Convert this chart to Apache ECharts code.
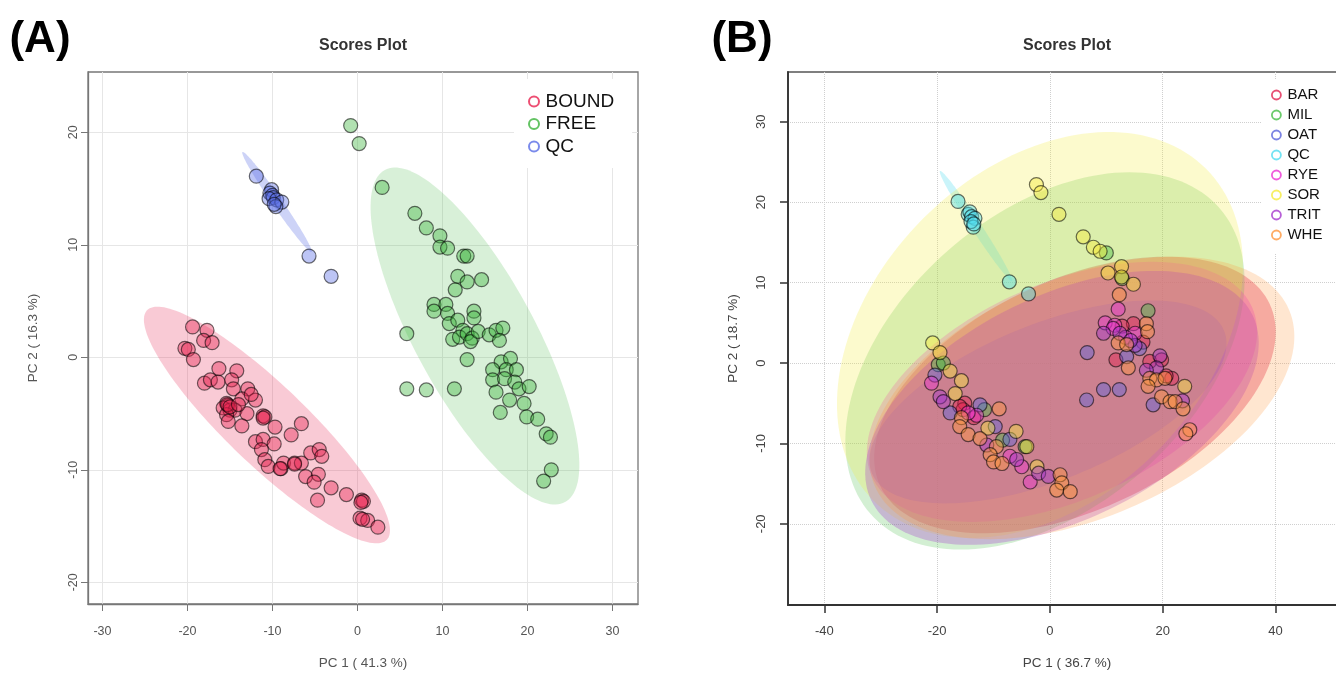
<!DOCTYPE html>
<html>
<head>
<meta charset="utf-8">
<script src="https://cdn.jsdelivr.net/npm/echarts@6/dist/echarts.min.js"></script>
<style>html,body{margin:0;padding:0;background:#fff;}#c{width:1336px;height:673px;}</style>
</head>
<body>
<div id="c"></div>
<script>
// ---------- Panel A data (PC1, PC2) ----------
const A_BOUND = [[-19.4,2.7],[-17.7,2.4],[-18.1,1.5],[-17.1,1.3],[-20.3,0.8],[-19.9,0.7],[-19.3,-0.2],[-16.3,-1.0],[-14.2,-1.2],[-18.0,-2.3],[-17.3,-2.0],[-16.4,-2.2],[-14.8,-2.0],[-14.6,-2.8],[-12.9,-2.8],[-12.0,-3.8],[-13.6,-3.7],[-15.4,-4.1],[-15.2,-4.3],[-15.8,-4.5],[-15.0,-4.7],[-14.4,-4.7],[-13.0,-5.0],[-15.4,-5.1],[-15.2,-5.7],[-13.6,-6.1],[-11.1,-5.2],[-10.9,-5.3],[-9.7,-6.2],[-6.6,-5.9],[-7.8,-6.9],[-12.0,-7.5],[-11.1,-7.3],[-9.8,-7.7],[-11.3,-8.2],[-10.9,-9.1],[-10.5,-9.7],[-9.0,-9.9],[-8.7,-9.4],[-7.4,-9.4],[-6.6,-9.4],[-5.5,-8.5],[-4.5,-8.2],[-4.2,-8.8],[-6.1,-10.6],[-4.6,-10.4],[-5.1,-11.1],[-4.7,-12.7],[-3.1,-11.6],[-1.3,-12.2],[0.5,-12.7],[0.7,-12.8],[0.3,-14.3],[1.2,-14.5],[2.4,-15.1],[-15.3,-4.2],[-15.0,-4.4],[-11.1,-5.4],[-9.1,-9.9],[-7.4,-9.5],[0.4,-12.9],[0.6,-14.4],[-14.0,-4.2],[-12.5,-3.3]];
const A_FREE = [[-0.8,20.6],[0.2,19.0],[2.9,15.1],[6.75,12.8],[8.1,11.5],[9.7,10.8],[9.7,9.8],[10.6,9.7],[12.5,9.0],[12.9,9.0],[11.8,7.2],[12.9,6.7],[14.6,6.9],[11.5,6.0],[9.0,4.7],[9.0,4.1],[10.4,4.7],[10.6,3.9],[10.8,3.0],[11.8,3.3],[13.7,4.1],[13.7,3.5],[12.4,2.4],[11.2,1.6],[12.0,1.8],[12.9,2.1],[13.5,1.7],[13.3,1.4],[14.2,2.3],[15.5,2.0],[16.3,2.4],[17.1,2.6],[16.7,1.5],[5.8,2.1],[12.9,-0.2],[16.9,-0.4],[18.0,-0.1],[15.9,-1.1],[17.5,-1.1],[18.7,-1.1],[15.9,-2.0],[17.3,-1.9],[18.5,-2.2],[19.0,-2.8],[20.2,-2.6],[16.3,-3.1],[17.9,-3.8],[19.6,-4.1],[16.8,-4.9],[19.9,-5.3],[21.2,-5.5],[22.2,-6.8],[22.7,-7.1],[5.8,-2.8],[8.1,-2.9],[11.4,-2.8],[22.8,-10.0],[21.9,-11.0]];
const A_QC = [[-11.9,16.1],[-10.1,14.9],[-10.3,14.6],[-10.0,14.4],[-9.9,14.2],[-10.4,14.1],[-9.5,14.0],[-8.9,13.8],[-9.6,13.4],[-9.8,13.6],[-5.7,9.0],[-3.1,7.2]];
// ellipses: [centerX, centerY, semiAxis1X, semiAxis1Y, semiAxis2X, semiAxis2Y]
const ELL_A_BOUND = [-10.65,-6.02,14.1,-10.2,3.26,2.57];
const ELL_A_FREE = [13.82,1.89,10.6,-14.76,6.2,2.54];
const ELL_A_QC = [-9.47,13.81,4.06,-4.44,0.48,0.25];
const A_X_TICKS = [-30,-20,-10,0,10,20,30];
const A_Y_TICKS = [-20,-10,0,10,20];

// ---------- Panel B data ----------
const B_BAR = [[14.8,4.9],[16.5,2.6],[11.7,0.4],[17.7,0.2],[19.8,0.4],[21.6,-1.9],[-15.1,-5.0],[-15.4,-5.8],[-13.5,-6.8],[-16.0,-5.4],[20.6,-1.6],[12.8,4.6]];
const B_MIL = [[10.0,13.7],[12.8,10.5],[17.4,6.5],[-19.8,-0.2],[-18.9,0.0],[-11.6,-5.8],[-8.4,-9.6],[-4.4,-10.4]];
const B_OAT = [[6.6,1.3],[6.5,-4.6],[9.5,-3.3],[12.3,-3.3],[18.3,-5.2],[15.9,1.8],[13.6,0.8],[-20.4,-1.5],[-12.4,-5.2],[-9.7,-7.9],[-7.1,-9.5],[-17.7,-6.2]];
const B_QC = [[-16.3,20.1],[-14.5,18.5],[-14.2,18.8],[-13.9,18.2],[-13.3,18.0],[-13.6,16.9],[-14.0,17.6],[-13.5,17.3],[-7.2,10.1],[-3.8,8.6]];
const B_RYE = [[12.1,6.7],[9.8,5.0],[11.5,4.7],[11.2,4.3],[15.1,3.7],[-13.0,-6.5],[-14.5,-6.2],[-7.1,-11.6],[-5.0,-12.9],[-3.5,-14.8],[-21.0,-2.5],[13.4,3.2]];
const B_SOR = [[-2.4,22.2],[-1.6,21.2],[1.6,18.5],[5.9,15.7],[7.7,14.4],[8.9,13.9],[10.3,11.2],[12.7,12.0],[12.7,10.7],[14.8,9.8],[-20.8,2.5],[-19.5,1.3],[-17.7,-1.0],[-15.7,-2.2],[-16.8,-3.8],[-11.0,-8.1],[-6.0,-8.5],[-4.1,-10.4],[-2.3,-12.9],[23.9,-2.9]];
const B_TRIT = [[9.5,3.7],[12.4,3.7],[15.1,2.2],[19.5,0.9],[18.9,-0.6],[17.1,-0.9],[23.5,-4.7],[-19.5,-4.2],[-18.9,-4.8],[-11.2,-10.2],[-5.9,-12.0],[-2.0,-13.7],[-0.3,-14.1],[14.3,2.8]];
const B_WHE = [[12.3,8.5],[17.1,4.9],[17.3,3.9],[12.1,2.5],[13.6,2.3],[13.9,-0.6],[17.7,-1.9],[18.9,-2.1],[20.4,-1.9],[17.4,-2.9],[19.8,-4.2],[21.3,-4.8],[22.2,-4.8],[23.6,-5.7],[24.8,-8.3],[24.1,-8.8],[-15.7,-6.8],[-16.0,-7.9],[-14.5,-8.9],[-12.4,-9.4],[-9.5,-10.4],[-10.6,-11.4],[-10.0,-12.3],[-8.5,-12.5],[1.8,-13.9],[2.1,-14.9],[1.2,-15.8],[3.6,-16.0],[-9.0,-5.7]];
const ELL_B_BAR = [4.43,-3.97,34.54,11.31,8.62,-12.96];
const ELL_B_MIL = [-0.89,0.26,30.94,19.02,17.18,-13.75];
const ELL_B_OAT = [-0.35,-4.84,31.23,8.86,5.18,-8.99];
const ELL_B_QC = [-13.12,17.05,6.38,-6.84,0.74,0.34];
const ELL_B_RYE = [2.13,-3.59,33.71,10.53,7.80,-12.28];
const ELL_B_SOR = [-1.77,3.49,29.46,20.66,20.68,-14.51];
const ELL_B_TRIT = [2.13,-5.58,33.79,11.55,8.70,-12.52];
const ELL_B_WHE = [5.67,-4.34,36.74,10.95,8.32,-13.74];
const B_X_TICKS = [-40,-20,0,20,40];
const B_Y_TICKS = [-20,-10,0,10,20,30];

const FONT = '"Liberation Sans", Arial, Helvetica, sans-serif';
const rgba = (c, a) => 'rgba(' + c.join(',') + ',' + a + ')';

const groupsA = [
  {name:'BOUND', data:A_BOUND, ell:ELL_A_BOUND, c:[232,35,80], ea:0.24},
  {name:'FREE', data:A_FREE, ell:ELL_A_FREE, c:[60,180,60], ea:0.2},
  {name:'QC', data:A_QC, ell:ELL_A_QC, c:[90,110,230], ea:0.3}
];
const groupsB = [
  {name:'BAR', data:B_BAR, ell:ELL_B_BAR, c:[225,35,80], ea:0.36},
  {name:'MIL', data:B_MIL, ell:ELL_B_MIL, c:[70,190,70], ea:0.24},
  {name:'OAT', data:B_OAT, ell:ELL_B_OAT, c:[90,100,220], ea:0.34},
  {name:'QC', data:B_QC, ell:ELL_B_QC, c:[80,220,240], ea:0.3},
  {name:'RYE', data:B_RYE, ell:ELL_B_RYE, c:[235,50,210], ea:0.28},
  {name:'SOR', data:B_SOR, ell:ELL_B_SOR, c:[245,235,60], ea:0.26},
  {name:'TRIT', data:B_TRIT, ell:ELL_B_TRIT, c:[165,55,205], ea:0.3},
  {name:'WHE', data:B_WHE, ell:ELL_B_WHE, c:[255,150,60], ea:0.24}
];

function ellipseSeries(id, idx, e, fill) {
  return {
    type:'custom', id:id, xAxisIndex:idx, yAxisIndex:idx, silent:true, clip:true, z:1,
    data:[[e[0], e[1]]],
    renderItem: function (params, api) {
      const pts = [];
      const n = 160;
      for (let k = 0; k < n; k++) {
        const t = 2 * Math.PI * k / n;
        pts.push(api.coord([e[0] + Math.cos(t) * e[2] + Math.sin(t) * e[4],
                            e[1] + Math.cos(t) * e[3] + Math.sin(t) * e[5]]));
      }
      return {type:'polygon', shape:{points:pts}, style:{fill:fill}};
    }
  };
}
function scatterSeries(g, idx, alpha) {
  return {
    type:'scatter', name:g.name, xAxisIndex:idx, yAxisIndex:idx, z:3,
    symbol:'circle', symbolSize:14, data:g.data,
    itemStyle:{color:rgba(g.c, alpha), borderColor:'rgba(0,0,0,0.7)', borderWidth:1.2}
  };
}

const series = [];
groupsA.forEach((g, i) => series.push(ellipseSeries('eA' + i, 0, g.ell, rgba(g.c, g.ea))));
groupsB.forEach((g, i) => series.push(ellipseSeries('eB' + i, 1, g.ell, rgba(g.c, g.ea))));
groupsA.forEach(g => series.push(scatterSeries(g, 0, 0.5)));
groupsB.forEach(g => series.push(scatterSeries(g, 1, 0.55)));

function legendData(groups, bw) {
  return groups.map(g => ({name:g.name, icon:'circle',
    itemStyle:{color:'rgba(0,0,0,0)', borderColor:rgba(g.c, 1), borderWidth:bw}}));
}

const chart = echarts.init(document.getElementById('c'), null, {renderer:'canvas'});
chart.setOption({
  animation:false,
  backgroundColor:'#fff',
  grid:[
    {left:88, top:72, width:550, height:532, outerBoundsMode:'none', containLabel:false, show:true, borderColor:'#777', borderWidth:1.3, backgroundColor:'transparent'},
    {left:788, top:72, width:558, height:533, outerBoundsMode:'none', containLabel:false, show:true, borderColor:'#555', borderWidth:1.5, backgroundColor:'transparent'}
  ],
  xAxis:[
    {gridIndex:0, type:'value', min:-31.7, max:33.0, minInterval:10, maxInterval:10,
     axisLine:{show:true, onZero:false, lineStyle:{color:'#777', width:1.3}},
     axisTick:{show:true, customValues:A_X_TICKS, length:7, lineStyle:{color:'#777'}},
     axisLabel:{customValues:A_X_TICKS, margin:21, fontSize:12.5, color:'#555', fontFamily:FONT},
     splitLine:{show:true, lineStyle:{color:'#e6e6e6', width:1}},
     name:'PC 1 ( 41.3 %)', nameLocation:'middle', nameGap:52,
     nameTextStyle:{fontSize:13.5, color:'#555', fontFamily:FONT}},
    {gridIndex:1, type:'value', min:-46.45, max:52.5, minInterval:20, maxInterval:20,
     axisLine:{show:true, onZero:false, lineStyle:{color:'#333', width:1.8}},
     axisTick:{show:true, customValues:B_X_TICKS, length:8, lineStyle:{color:'#333', width:1.5}},
     axisLabel:{customValues:B_X_TICKS, margin:20, fontSize:13, color:'#444', fontFamily:FONT},
     splitLine:{show:true, lineStyle:{color:'#cfcfcf', width:1, type:'dotted'}},
     name:'PC 1 ( 36.7 %)', nameLocation:'middle', nameGap:51,
     nameTextStyle:{fontSize:13.5, color:'#444', fontFamily:FONT}}
  ],
  yAxis:[
    {gridIndex:0, type:'value', min:-21.93, max:25.36, minInterval:10, maxInterval:10,
     axisLine:{show:true, onZero:false, lineStyle:{color:'#777', width:1.3}},
     axisTick:{show:true, customValues:A_Y_TICKS, length:7, lineStyle:{color:'#777'}},
     axisLabel:{customValues:A_Y_TICKS, rotate:90, margin:8, fontSize:12.5, color:'#555', fontFamily:FONT},
     splitLine:{show:true, lineStyle:{color:'#e6e6e6', width:1}},
     name:'PC 2 ( 16.3 %)', nameLocation:'middle', nameGap:48, nameRotate:90,
     nameTextStyle:{fontSize:13.5, color:'#555', fontFamily:FONT}},
    {gridIndex:1, type:'value', min:-30.1, max:36.2, minInterval:10, maxInterval:10,
     axisLine:{show:true, onZero:false, lineStyle:{color:'#333', width:1.8}},
     axisTick:{show:true, customValues:B_Y_TICKS, length:8, lineStyle:{color:'#333', width:1.5}},
     axisLabel:{customValues:B_Y_TICKS, rotate:90, margin:20, fontSize:13, color:'#444', fontFamily:FONT},
     splitLine:{show:true, lineStyle:{color:'#cfcfcf', width:1, type:'dotted'}},
     name:'PC 2 ( 18.7 %)', nameLocation:'middle', nameGap:48, nameRotate:90,
     nameTextStyle:{fontSize:13.5, color:'#444', fontFamily:FONT}}
  ],
  legend:[
    {left:514, top:79, orient:'vertical', backgroundColor:'#fff', padding:[13,18,12,14],
     itemWidth:13, itemHeight:10, itemGap:3.5, selectedMode:false,
     textStyle:{fontSize:19, color:'#111', fontFamily:FONT, lineHeight:19},
     data:legendData(groupsA, 2)},
    {left:1262, top:80, orient:'vertical', backgroundColor:'#fff', padding:[7,30,10,9],
     itemWidth:12, itemHeight:9, itemGap:4, selectedMode:false,
     textStyle:{fontSize:15, color:'#111', fontFamily:FONT, lineHeight:16},
     data:legendData(groupsB, 1.8)}
  ],
  graphic:[
    {type:'text', x:40, y:40, style:{text:'(A)', font:'bold 44px ' + FONT, fill:'#000', textAlign:'center', align:'center', textVerticalAlign:'middle', verticalAlign:'middle'}},
    {type:'text', x:742, y:40, style:{text:'(B)', font:'bold 44px ' + FONT, fill:'#000', textAlign:'center', align:'center', textVerticalAlign:'middle', verticalAlign:'middle'}},
    {type:'text', x:363, y:46, style:{text:'Scores Plot', font:'bold 16px ' + FONT, fill:'#333', textAlign:'center', align:'center', textVerticalAlign:'middle', verticalAlign:'middle'}},
    {type:'text', x:1067, y:46, style:{text:'Scores Plot', font:'bold 16px ' + FONT, fill:'#333', textAlign:'center', align:'center', textVerticalAlign:'middle', verticalAlign:'middle'}}
  ],
  series:series
});
</script>
</body>
</html>
